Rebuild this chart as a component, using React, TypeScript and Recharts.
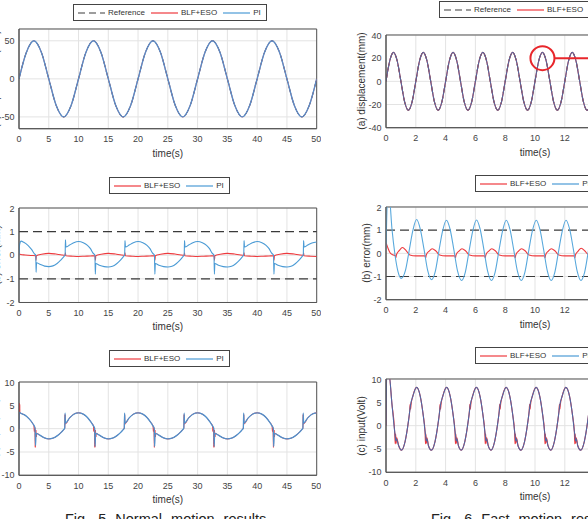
import React from 'react';
import { LineChart, Line, XAxis, YAxis, CartesianGrid, ReferenceLine, ReferenceArea, ReferenceDot } from 'recharts';

type Pt = [number, number];

// tick labels
const normalTimeTicks = [0, 5, 10, 15, 20, 25, 30, 35, 40, 45, 50];
const fastTimeTicks = [0, 2, 4, 6, 8, 10, 12, 14, 16, 18, 20];
const normalPosTicks = [-50, 0, 50];
const fastPosTicks = [-40, -20, 0, 20, 40];
const errorTicks = [-2, -1, 0, 1, 2];
const inputTicks = [-10, -5, 0, 5, 10];
const errorBounds = [-1, 1];

// Fig. 5 (normal motion) — displacement, reference / BLF+ESO / PI overlap
const normalPos: Pt[] = [
  [0, 0], [1.25, 35], [2.5, 50], [3.75, 35], [5, 0], [6.25, -35], [7.5, -50], [8.75, -35],
  [10, 0], [11.25, 35], [12.5, 50], [13.75, 35], [15, 0], [16.25, -35], [17.5, -50], [18.75, -35],
  [20, 0], [21.25, 35], [22.5, 50], [23.75, 35], [25, 0], [26.25, -35], [27.5, -50], [28.75, -35],
  [30, 0], [31.25, 35], [32.5, 50], [33.75, 35], [35, 0], [36.25, -35], [37.5, -50], [38.75, -35],
  [40, 0], [41.25, 35], [42.5, 50], [43.75, 35], [45, 0], [46.25, -35], [47.5, -50], [48.75, -35], [50, 0],
];

const normalErrBlf: Pt[] = [
  [0, 0.05], [0.3, 0.03], [1, 0.01], [2, -0.01], [2.8, -0.02], [2.85, -0.22], [2.92, -0.02],
  [3.8, 0.04], [5, 0.08], [6.2, 0.05], [7.2, 0.01], [7.75, 0], [7.8, 0.1], [7.86, -0.02],
  [9, -0.04], [10, -0.05], [11, -0.04], [12, -0.03], [12.78, -0.02], [12.83, -0.22], [12.9, -0.02],
  [13.8, 0.04], [15, 0.08], [16.2, 0.05], [17.2, 0.01], [17.75, 0], [17.8, 0.1], [17.86, -0.02],
  [19, -0.04], [20, -0.05], [21, -0.04], [22, -0.03], [22.78, -0.02], [22.83, -0.22], [22.9, -0.02],
  [23.8, 0.04], [25, 0.08], [26.2, 0.05], [27.2, 0.01], [27.75, 0], [27.8, 0.1], [27.86, -0.02],
  [29, -0.04], [30, -0.05], [31, -0.04], [32, -0.03], [32.78, -0.02], [32.83, -0.22], [32.9, -0.02],
  [33.8, 0.04], [35, 0.08], [36.2, 0.05], [37.2, 0.01], [37.75, 0], [37.8, 0.1], [37.86, -0.02],
  [39, -0.04], [40, -0.05], [41, -0.04], [42, -0.03], [42.78, -0.02], [42.83, -0.22], [42.9, -0.02],
  [43.8, 0.04], [45, 0.08], [46.2, 0.05], [47.2, 0.01], [47.75, 0], [47.8, 0.1], [47.86, -0.02],
  [49, -0.04], [50, -0.05],
];

const normalErrPi: Pt[] = [
  [0, 0], [0.1, 0.45], [0.35, 0.6], [0.8, 0.55], [1.5, 0.42], [2.1, 0.25], [2.6, 0.06], [2.82, 0], [2.87, -0.72], [2.95, -0.32],
  [3.5, -0.38], [4.3, -0.46], [5, -0.48], [5.7, -0.45], [6.4, -0.35], [7, -0.21], [7.5, -0.07], [7.75, 0.02], [7.8, 0.65], [7.88, 0.35],
  [8.5, 0.43], [9.2, 0.53], [10, 0.58], [10.8, 0.53], [11.5, 0.42], [12, 0.28], [12.4, 0.1], [12.75, 0], [12.82, -0.8], [12.9, -0.35],
  [13.5, -0.42], [14.3, -0.48], [15, -0.5], [15.7, -0.47], [16.4, -0.36], [17, -0.22], [17.5, -0.07], [17.75, 0.02], [17.8, 0.62], [17.88, 0.35],
  [18.5, 0.43], [19.2, 0.53], [20, 0.58], [20.8, 0.53], [21.5, 0.42], [22, 0.28], [22.4, 0.1], [22.75, 0], [22.82, -0.8], [22.9, -0.35],
  [23.5, -0.42], [24.3, -0.48], [25, -0.5], [25.7, -0.47], [26.4, -0.36], [27, -0.22], [27.5, -0.07], [27.75, 0.02], [27.8, 0.62], [27.88, 0.35],
  [28.5, 0.43], [29.2, 0.53], [30, 0.58], [30.8, 0.53], [31.5, 0.42], [32, 0.28], [32.4, 0.1], [32.75, 0], [32.82, -0.8], [32.9, -0.35],
  [33.5, -0.42], [34.3, -0.48], [35, -0.5], [35.7, -0.47], [36.4, -0.36], [37, -0.22], [37.5, -0.07], [37.75, 0.02], [37.8, 0.62], [37.88, 0.35],
  [38.5, 0.43], [39.2, 0.53], [40, 0.58], [40.8, 0.53], [41.5, 0.42], [42, 0.28], [42.4, 0.1], [42.75, 0], [42.82, -0.8], [42.9, -0.35],
  [43.5, -0.42], [44.3, -0.48], [45, -0.5], [45.7, -0.47], [46.4, -0.36], [47, -0.22], [47.5, -0.07], [47.75, 0.02], [47.8, 0.62], [47.88, 0.35],
  [48.5, 0.43], [49.2, 0.52], [50, 0.56],
];

const normalInBlf: Pt[] = [
  [0, 0], [0.03, 5.5], [0.07, 3.0], [0.11, 5.2], [0.16, 3.4], [0.3, 3.3], [1, 2.9], [1.7, 2.1], [2.3, 1.1],
  [2.5, 0.6], [2.58, -0.6], [2.66, 0.2], [2.74, -4.0], [2.82, -0.3], [2.9, -1.8], [2.98, -1.0],
  [3.5, -1.4], [4.3, -2.0], [5, -2.2], [5.7, -2.05], [6.4, -1.55], [7, -0.9], [7.5, -0.2], [7.68, 0.1], [7.74, 3.0], [7.8, 1.0],
  [8.5, 2.3], [9.2, 3.1], [10, 3.4], [10.8, 3.1], [11.5, 2.4], [12.1, 1.4],
  [12.5, 0.6], [12.58, -0.6], [12.66, 0.2], [12.74, -4.0], [12.82, -0.3], [12.9, -1.8], [12.98, -1.0],
  [13.5, -1.4], [14.3, -2.0], [15, -2.2], [15.7, -2.05], [16.4, -1.55], [17, -0.9], [17.5, -0.2], [17.68, 0.1], [17.74, 3.0], [17.8, 1.0],
  [18.5, 2.3], [19.2, 3.1], [20, 3.4], [20.8, 3.1], [21.5, 2.4], [22.1, 1.4],
  [22.5, 0.6], [22.58, -0.6], [22.66, 0.2], [22.74, -4.0], [22.82, -0.3], [22.9, -1.8], [22.98, -1.0],
  [23.5, -1.4], [24.3, -2.0], [25, -2.2], [25.7, -2.05], [26.4, -1.55], [27, -0.9], [27.5, -0.2], [27.68, 0.1], [27.74, 3.0], [27.8, 1.0],
  [28.5, 2.3], [29.2, 3.1], [30, 3.4], [30.8, 3.1], [31.5, 2.4], [32.1, 1.4],
  [32.5, 0.6], [32.58, -0.6], [32.66, 0.2], [32.74, -4.0], [32.82, -0.3], [32.9, -1.8], [32.98, -1.0],
  [33.5, -1.4], [34.3, -2.0], [35, -2.2], [35.7, -2.05], [36.4, -1.55], [37, -0.9], [37.5, -0.2], [37.68, 0.1], [37.74, 3.0], [37.8, 1.0],
  [38.5, 2.3], [39.2, 3.1], [40, 3.4], [40.8, 3.1], [41.5, 2.4], [42.1, 1.4],
  [42.5, 0.6], [42.58, -0.6], [42.66, 0.2], [42.74, -4.0], [42.82, -0.3], [42.9, -1.8], [42.98, -1.0],
  [43.5, -1.4], [44.3, -2.0], [45, -2.2], [45.7, -2.05], [46.4, -1.55], [47, -0.9], [47.5, -0.2], [47.68, 0.1], [47.74, 3.0], [47.8, 1.0],
  [48.5, 2.3], [49.2, 3.1], [50, 3.4],
];

const normalInPi: Pt[] = [
  [0, 0], [0.03, 3.5], [0.3, 3.3], [1, 2.9], [1.7, 2.1], [2.3, 1.1], [2.7, 0.1], [2.78, -3.6], [2.86, -1.0],
  [3.5, -1.4], [4.3, -2.0], [5, -2.2], [5.7, -2.05], [6.4, -1.55], [7, -0.9], [7.5, -0.2], [7.68, 0.1], [7.74, 3.3], [7.8, 1.2],
  [8.5, 2.3], [9.2, 3.1], [10, 3.4], [10.8, 3.1], [11.5, 2.4], [12.1, 1.4], [12.5, 0.6], [12.72, 0], [12.78, -3.8], [12.86, -1.0],
  [13.5, -1.4], [14.3, -2.0], [15, -2.2], [15.7, -2.05], [16.4, -1.55], [17, -0.9], [17.5, -0.2], [17.68, 0.1], [17.74, 3.3], [17.8, 1.2],
  [18.5, 2.3], [19.2, 3.1], [20, 3.4], [20.8, 3.1], [21.5, 2.4], [22.1, 1.4], [22.5, 0.6], [22.72, 0], [22.78, -3.8], [22.86, -1.0],
  [23.5, -1.4], [24.3, -2.0], [25, -2.2], [25.7, -2.05], [26.4, -1.55], [27, -0.9], [27.5, -0.2], [27.68, 0.1], [27.74, 3.3], [27.8, 1.2],
  [28.5, 2.3], [29.2, 3.1], [30, 3.4], [30.8, 3.1], [31.5, 2.4], [32.1, 1.4], [32.5, 0.6], [32.72, 0], [32.78, -3.8], [32.86, -1.0],
  [33.5, -1.4], [34.3, -2.0], [35, -2.2], [35.7, -2.05], [36.4, -1.55], [37, -0.9], [37.5, -0.2], [37.68, 0.1], [37.74, 3.3], [37.8, 1.2],
  [38.5, 2.3], [39.2, 3.1], [40, 3.4], [40.8, 3.1], [41.5, 2.4], [42.1, 1.4], [42.5, 0.6], [42.72, 0], [42.78, -3.8], [42.86, -1.0],
  [43.5, -1.4], [44.3, -2.0], [45, -2.2], [45.7, -2.05], [46.4, -1.55], [47, -0.9], [47.5, -0.2], [47.68, 0.1], [47.74, 3.3], [47.8, 1.2],
  [48.5, 2.3], [49.2, 3.1], [50, 3.4],
];

// Fig. 6 (fast motion) — displacement
const fastPos: Pt[] = [
  [0, 0], [0.25, 17.7], [0.5, 25], [0.75, 17.7], [1, 0], [1.25, -17.7], [1.5, -25], [1.75, -17.7],
  [2, 0], [2.25, 17.7], [2.5, 25], [2.75, 17.7], [3, 0], [3.25, -17.7], [3.5, -25], [3.75, -17.7],
  [4, 0], [4.25, 17.7], [4.5, 25], [4.75, 17.7], [5, 0], [5.25, -17.7], [5.5, -25], [5.75, -17.7],
  [6, 0], [6.25, 17.7], [6.5, 25], [6.75, 17.7], [7, 0], [7.25, -17.7], [7.5, -25], [7.75, -17.7],
  [8, 0], [8.25, 17.7], [8.5, 25], [8.75, 17.7], [9, 0], [9.25, -17.7], [9.5, -25], [9.75, -17.7],
  [10, 0], [10.25, 17.7], [10.5, 25], [10.75, 17.7], [11, 0], [11.25, -17.7], [11.5, -25], [11.75, -17.7],
  [12, 0], [12.25, 17.7], [12.5, 25], [12.75, 17.7], [13, 0], [13.25, -17.7], [13.5, -25], [13.75, -17.7], [14, 0],
];

const fastErrBlf: Pt[] = [
  [0, 0.45], [0.1, 0.28], [0.25, 0.05], [0.45, -0.06], [0.62, -0.1], [0.66, -0.2], [0.7, -0.06], [0.9, 0.13], [1.1, 0.25], [1.35, 0.12], [1.6, -0.07],
  [2, -0.11], [2.4, -0.11], [2.62, -0.11], [2.66, -0.2], [2.7, -0.07], [2.9, 0.1], [3.1, 0.2], [3.35, 0.1], [3.6, -0.07],
  [4, -0.11], [4.4, -0.11], [4.62, -0.11], [4.66, -0.2], [4.7, -0.07], [4.9, 0.1], [5.1, 0.2], [5.35, 0.1], [5.6, -0.07],
  [6, -0.11], [6.4, -0.11], [6.62, -0.11], [6.66, -0.2], [6.7, -0.07], [6.9, 0.1], [7.1, 0.2], [7.35, 0.1], [7.6, -0.07],
  [8, -0.11], [8.4, -0.11], [8.63, -0.11], [8.67, -0.2], [8.71, -0.07], [8.9, 0.1], [9.1, 0.2], [9.35, 0.1], [9.6, -0.07],
  [10, -0.11], [10.4, -0.11], [10.63, -0.11], [10.67, -0.2], [10.71, -0.07], [10.9, 0.1], [11.1, 0.2], [11.35, 0.1], [11.6, -0.07],
  [12, -0.11], [12.4, -0.11], [12.63, -0.11], [12.67, -0.2], [12.71, -0.07], [12.9, 0.1], [13.1, 0.22], [13.35, 0.1], [13.6, -0.07], [14, -0.11],
];

const fastErrPi: Pt[] = [
  [0, 0.2], [0.05, 1.6], [0.1, 2.4], [0.22, 2.4], [0.4, 1.05], [0.6, -0.05], [0.8, -0.78], [1.02, -1.08],
  [1.3, -0.75], [1.55, 0.1], [1.8, 0.98], [2.05, 1.46], [2.3, 1.05], [2.55, 0.18], [2.8, -0.75], [3.05, -1.14],
  [3.3, -0.8], [3.55, 0.1], [3.8, 0.97], [4.05, 1.43], [4.3, 1.04], [4.55, 0.17], [4.8, -0.76], [5.07, -1.17],
  [5.32, -0.82], [5.57, 0.08], [5.82, 0.96], [6.07, 1.44], [6.32, 1.04], [6.57, 0.16], [6.82, -0.77], [7.07, -1.17],
  [7.32, -0.82], [7.57, 0.08], [7.82, 0.96], [8.07, 1.43], [8.32, 1.03], [8.57, 0.16], [8.82, -0.77], [9.07, -1.17],
  [9.32, -0.82], [9.57, 0.08], [9.82, 0.96], [10.08, 1.43], [10.33, 1.03], [10.58, 0.16], [10.83, -0.77], [11.08, -1.17],
  [11.33, -0.82], [11.58, 0.08], [11.83, 0.96], [12.08, 1.43], [12.33, 1.03], [12.58, 0.16], [12.83, -0.77], [13.08, -1.17],
  [13.33, -0.82], [13.58, 0.08], [13.83, 0.96], [14.08, 1.43],
];

const fastInBlf: Pt[] = [
  [0, 0], [0.03, 11], [0.2, 11], [0.4, 4.6], [0.58, -1.2], [0.62, -3.9], [0.65, -1.8], [0.68, -3.8], [0.72, -2.6], [0.85, -4.3], [1.03, -5.25],
  [1.28, -3.4], [1.5, 0.8], [1.59, 3.2], [1.62, 4.6], [1.65, 3.5], [1.68, 4.5], [1.8, 6.3], [2.05, 8.2], [2.3, 6.3], [2.5, 2.2],
  [2.62, -1.2], [2.65, -3.9], [2.68, -1.8], [2.71, -3.8], [2.75, -2.6], [2.85, -4.3], [3.04, -5.25],
  [3.29, -3.4], [3.51, 0.8], [3.6, 3.2], [3.63, 4.6], [3.66, 3.5], [3.69, 4.5], [3.81, 6.3], [4.06, 8.2], [4.31, 6.3], [4.51, 2.2],
  [4.63, -1.2], [4.66, -3.9], [4.69, -1.8], [4.72, -3.8], [4.76, -2.6], [4.86, -4.3], [5.04, -5.25],
  [5.29, -3.4], [5.51, 0.8], [5.6, 3.2], [5.63, 4.6], [5.66, 3.5], [5.69, 4.5], [5.81, 6.3], [6.06, 8.2], [6.31, 6.3], [6.51, 2.2],
  [6.63, -1.2], [6.66, -3.9], [6.69, -1.8], [6.72, -3.8], [6.76, -2.6], [6.86, -4.3], [7.04, -5.25],
  [7.29, -3.4], [7.51, 0.8], [7.6, 3.2], [7.63, 4.6], [7.66, 3.5], [7.69, 4.5], [7.81, 6.3], [8.06, 8.2], [8.31, 6.3], [8.51, 2.2],
  [8.63, -1.2], [8.66, -3.9], [8.69, -1.8], [8.72, -3.8], [8.76, -2.6], [8.86, -4.3], [9.05, -5.25],
  [9.3, -3.4], [9.52, 0.8], [9.61, 3.2], [9.64, 4.6], [9.67, 3.5], [9.7, 4.5], [9.82, 6.3], [10.07, 8.2], [10.32, 6.3], [10.52, 2.2],
  [10.64, -1.2], [10.67, -3.9], [10.7, -1.8], [10.73, -3.8], [10.77, -2.6], [10.87, -4.3], [11.05, -5.25],
  [11.3, -3.4], [11.52, 0.8], [11.61, 3.2], [11.64, 4.6], [11.67, 3.5], [11.7, 4.5], [11.82, 6.3], [12.07, 8.2], [12.32, 6.3], [12.52, 2.2],
  [12.64, -1.2], [12.67, -3.9], [12.7, -1.8], [12.73, -3.8], [12.77, -2.6], [12.87, -4.3], [13.06, -5.25],
  [13.31, -3.4], [13.53, 0.8], [13.62, 3.2], [13.65, 4.6], [13.68, 3.5], [13.71, 4.5], [13.83, 6.3], [14.08, 8.2],
];

const fastInPi: Pt[] = [
  [0, 0], [0.05, 11], [0.2, 11], [0.4, 4.6], [0.58, -1.2], [0.62, -2.2], [0.66, -3.3], [0.7, -2.8], [0.85, -4.3], [1.03, -5.25],
  [1.28, -3.4], [1.5, 0.8], [1.6, 3.3], [1.64, 4.3], [1.8, 6.3], [2.05, 8.2], [2.3, 6.3], [2.5, 2.2],
  [2.62, -1.2], [2.66, -2.2], [2.7, -3.3], [2.74, -2.8], [2.85, -4.3], [3.04, -5.25],
  [3.29, -3.4], [3.51, 0.8], [3.61, 3.3], [3.65, 4.3], [3.81, 6.3], [4.06, 8.2], [4.31, 6.3], [4.51, 2.2],
  [4.63, -1.2], [4.67, -2.2], [4.71, -3.3], [4.75, -2.8], [4.86, -4.3], [5.04, -5.25],
  [5.29, -3.4], [5.51, 0.8], [5.61, 3.3], [5.65, 4.3], [5.81, 6.3], [6.06, 8.2], [6.31, 6.3], [6.51, 2.2],
  [6.63, -1.2], [6.67, -2.2], [6.71, -3.3], [6.75, -2.8], [6.86, -4.3], [7.04, -5.25],
  [7.29, -3.4], [7.51, 0.8], [7.61, 3.3], [7.65, 4.3], [7.81, 6.3], [8.06, 8.2], [8.31, 6.3], [8.51, 2.2],
  [8.63, -1.2], [8.67, -2.2], [8.71, -3.3], [8.75, -2.8], [8.86, -4.3], [9.05, -5.25],
  [9.3, -3.4], [9.52, 0.8], [9.62, 3.3], [9.66, 4.3], [9.82, 6.3], [10.07, 8.2], [10.32, 6.3], [10.52, 2.2],
  [10.64, -1.2], [10.68, -2.2], [10.72, -3.3], [10.76, -2.8], [10.87, -4.3], [11.05, -5.25],
  [11.3, -3.4], [11.52, 0.8], [11.62, 3.3], [11.66, 4.3], [11.82, 6.3], [12.07, 8.2], [12.32, 6.3], [12.52, 2.2],
  [12.64, -1.2], [12.68, -2.2], [12.72, -3.3], [12.76, -2.8], [12.87, -4.3], [13.06, -5.25],
  [13.31, -3.4], [13.53, 0.8], [13.63, 3.3], [13.67, 4.3], [13.83, 6.3], [14.08, 8.2],
];

// zoom marker drawn on the fast displacement plot
const markerAt = { t: 10.5, v: 20 };

const RED = '#ee3a3e';
const BLUE = '#4b9bd5';
const REF = '#3c3c3c';
const FONT = '"Liberation Sans", Arial, sans-serif';

type Series = { name: string; data: Pt[]; color: string; dash?: string; width?: number };

type PanelProps = {
  x0: number; x1: number; y0: number; y1: number;
  xDomain: [number, number]; xTicks: number[];
  yDomain: [number, number]; yTicks: number[];
  series: Series[];
  bounds?: number[];
  extra?: React.ReactNode;
};

const YW = 40;
const TOP = 4;
const XH = 32;
const RIGHT = 4;

const toRows = (a: Pt[]) => a.map(([t, v]) => ({ t, v }));

function Panel(p: PanelProps) {
  const w = p.x1 - p.x0;
  const h = p.y1 - p.y0;
  return (
    <div style={{ position: 'absolute', left: p.x0 - YW, top: p.y0 - TOP }}>
      <LineChart width={YW + w + RIGHT} height={TOP + h + XH} margin={{ top: TOP, right: RIGHT, bottom: 0, left: 0 }}>
        <CartesianGrid stroke="#e3e3e3" />
        <XAxis
          type="number"
          dataKey="t"
          domain={p.xDomain}
          ticks={p.xTicks}
          allowDataOverflow
          height={XH}
          tickLine={false}
          tickSize={0}
          tickMargin={7}
          stroke="#555"
          tick={{ fill: '#444', fontSize: 9, fontFamily: FONT }}
          label={{ value: 'time(s)', position: 'insideBottom', offset: 4, fill: '#333', fontSize: 10, fontFamily: FONT }}
        />
        <YAxis
          type="number"
          domain={p.yDomain}
          ticks={p.yTicks}
          allowDataOverflow
          width={YW}
          tickLine={false}
          tickSize={0}
          tickMargin={4.5}
          stroke="#555"
          tick={{ fill: '#444', fontSize: 9, fontFamily: FONT }}
        />
        {(p.bounds || []).map((b) => (
          <ReferenceLine key={b} y={b} stroke="#3a3a3a" strokeWidth={1.2} strokeDasharray="9 5" />
        ))}
        {p.series.map((s) => (
          <Line
            key={s.name}
            data={toRows(s.data)}
            dataKey="v"
            name={s.name}
            type="monotone"
            stroke={s.color}
            strokeWidth={s.width ?? 1.1}
            strokeDasharray={s.dash}
            dot={false}
            activeDot={false}
            isAnimationActive={false}
          />
        ))}
        <ReferenceArea
          x1={p.xDomain[0]} x2={p.xDomain[1]} y1={p.yDomain[0]} y2={p.yDomain[1]}
          fill="none" fillOpacity={0} stroke="#555" strokeWidth={1} ifOverflow="visible"
        />
        {p.extra}
      </LineChart>
    </div>
  );
}

type LegendItem = { label: string; color: string; dash?: string };

function LegendBox({ left, top, items }: { left: number; top: number; items: LegendItem[] }) {
  return (
    <div
      style={{
        position: 'absolute', left, top, height: 17, boxSizing: 'border-box',
        border: '1px solid #444', background: '#fff', display: 'flex', alignItems: 'center',
        padding: '0 5px 0 4px', fontSize: 8, color: '#333', whiteSpace: 'nowrap', fontFamily: FONT,
      }}
    >
      {items.map((it, i) => (
        <span key={it.label} style={{ display: 'flex', alignItems: 'center', marginLeft: i ? 6 : 0 }}>
          <svg width={27} height={4} style={{ display: 'block' }}>
            <line x1={0} y1={2} x2={27} y2={2} stroke={it.color} strokeWidth={1.2} strokeDasharray={it.dash} />
          </svg>
          <span style={{ marginLeft: 3 }}>{it.label}</span>
        </span>
      ))}
    </div>
  );
}

const legendAll: LegendItem[] = [
  { label: 'Reference', color: REF, dash: '7 4' },
  { label: 'BLF+ESO', color: RED },
  { label: 'PI', color: BLUE },
];
const legendTwo: LegendItem[] = [
  { label: 'BLF+ESO', color: RED },
  { label: 'PI', color: BLUE },
];

const yLabels = [
  { text: '(a) displacement(mm)', x: -5, y: 79 },
  { text: '(b) error(mm)', x: -3.5, y: 255 },
  { text: '(c) input(Volt)', x: -5.5, y: 428 },
  { text: '(a) displacement(mm)', x: 361, y: 81 },
  { text: '(b) error(mm)', x: 366, y: 253 },
  { text: '(c) input(Volt)', x: 361, y: 426 },
];

export default function App() {
  const LX0 = 19.3, LX1 = 317;
  const RX0 = 385.7, RX1 = 683.7;
  return (
    <div style={{ position: 'absolute', left: 0, top: 0, width: 588, height: 519, overflow: 'hidden', background: '#fff', fontFamily: FONT }}>
      {/* Fig. 5 */}
      <Panel
        x0={LX0} x1={LX1} y0={29.3} y1={129}
        xDomain={[0, 50]} xTicks={normalTimeTicks}
        yDomain={[-65.5, 65.5]} yTicks={normalPosTicks}
        series={[
          { name: 'Reference', data: normalPos, color: REF, dash: '7 4', width: 1 },
          { name: 'BLF+ESO', data: normalPos, color: RED, width: 0.8 },
          { name: 'PI', data: normalPos, color: '#5a8cc6', width: 1.4 },
        ]}
      />
      <Panel
        x0={LX0} x1={LX1} y0={208} y1={302.5}
        xDomain={[0, 50]} xTicks={normalTimeTicks}
        yDomain={[-2, 2]} yTicks={errorTicks}
        bounds={errorBounds}
        series={[
          { name: 'BLF+ESO', data: normalErrBlf, color: RED },
          { name: 'PI', data: normalErrPi, color: BLUE },
        ]}
      />
      <Panel
        x0={LX0} x1={LX1} y0={381.7} y1={475}
        xDomain={[0, 50]} xTicks={normalTimeTicks}
        yDomain={[-10, 10]} yTicks={inputTicks}
        series={[
          { name: 'BLF+ESO', data: normalInBlf, color: RED, width: 1 },
          { name: 'PI', data: normalInPi, color: '#4f90cc', width: 1.3 },
        ]}
      />

      {/* Fig. 6 */}
      <Panel
        x0={RX0} x1={RX1} y0={35} y1={127.7}
        xDomain={[0, 20]} xTicks={fastTimeTicks}
        yDomain={[-40, 40]} yTicks={fastPosTicks}
        series={[
          { name: 'Reference', data: fastPos, color: REF, dash: '7 4' },
          { name: 'BLF+ESO', data: fastPos, color: RED },
          { name: 'PI', data: fastPos, color: '#56679c' },
        ]}
        extra={[
          <ReferenceDot key="c" x={markerAt.t} y={markerAt.v} r={12} fill="none" stroke="#e8262b" strokeWidth={2} ifOverflow="visible" />,
          <ReferenceLine
            key="l"
            segment={[{ x: 11.32, y: markerAt.v }, { x: 20, y: markerAt.v }]}
            stroke="#e8262b"
            strokeWidth={2}
            ifOverflow="visible"
          />,
        ]}
      />
      <Panel
        x0={RX0} x1={RX1} y0={207.3} y1={300}
        xDomain={[0, 20]} xTicks={fastTimeTicks}
        yDomain={[-2, 2]} yTicks={errorTicks}
        bounds={errorBounds}
        series={[
          { name: 'BLF+ESO', data: fastErrBlf, color: RED },
          { name: 'PI', data: fastErrPi, color: '#58a8dc' },
        ]}
      />
      <Panel
        x0={RX0} x1={RX1} y0={379} y1={472.3}
        xDomain={[0, 20]} xTicks={fastTimeTicks}
        yDomain={[-10, 10]} yTicks={inputTicks}
        series={[
          { name: 'BLF+ESO', data: fastInBlf, color: RED },
          { name: 'PI', data: fastInPi, color: '#4e67a4' },
        ]}
      />

      <LegendBox left={73} top={4} items={legendAll} />
      <LegendBox left={109} top={177} items={legendTwo} />
      <LegendBox left={109} top={350} items={legendTwo} />
      <LegendBox left={439} top={1} items={legendAll} />
      <LegendBox left={475} top={175} items={legendTwo} />
      <LegendBox left={475} top={347} items={legendTwo} />

      <svg width={588} height={519} style={{ position: 'absolute', left: 0, top: 0, pointerEvents: 'none' }}>
        {yLabels.map((l, i) => (
          <text
            key={i}
            transform={`translate(${l.x},${l.y}) rotate(-90)`}
            textAnchor="middle"
            dominantBaseline="central"
            fontSize={10}
            fill="#333"
            fontFamily={FONT}
          >
            {l.text}
          </text>
        ))}
        <text x={65} y={524} fontSize={14.5} fill="#222" fontFamily={FONT} wordSpacing={5}>Fig. 5 Normal motion results</text>
        <text x={431} y={524} fontSize={14.5} fill="#222" fontFamily={FONT} wordSpacing={5}>Fig. 6 Fast motion results</text>
      </svg>
    </div>
  );
}
